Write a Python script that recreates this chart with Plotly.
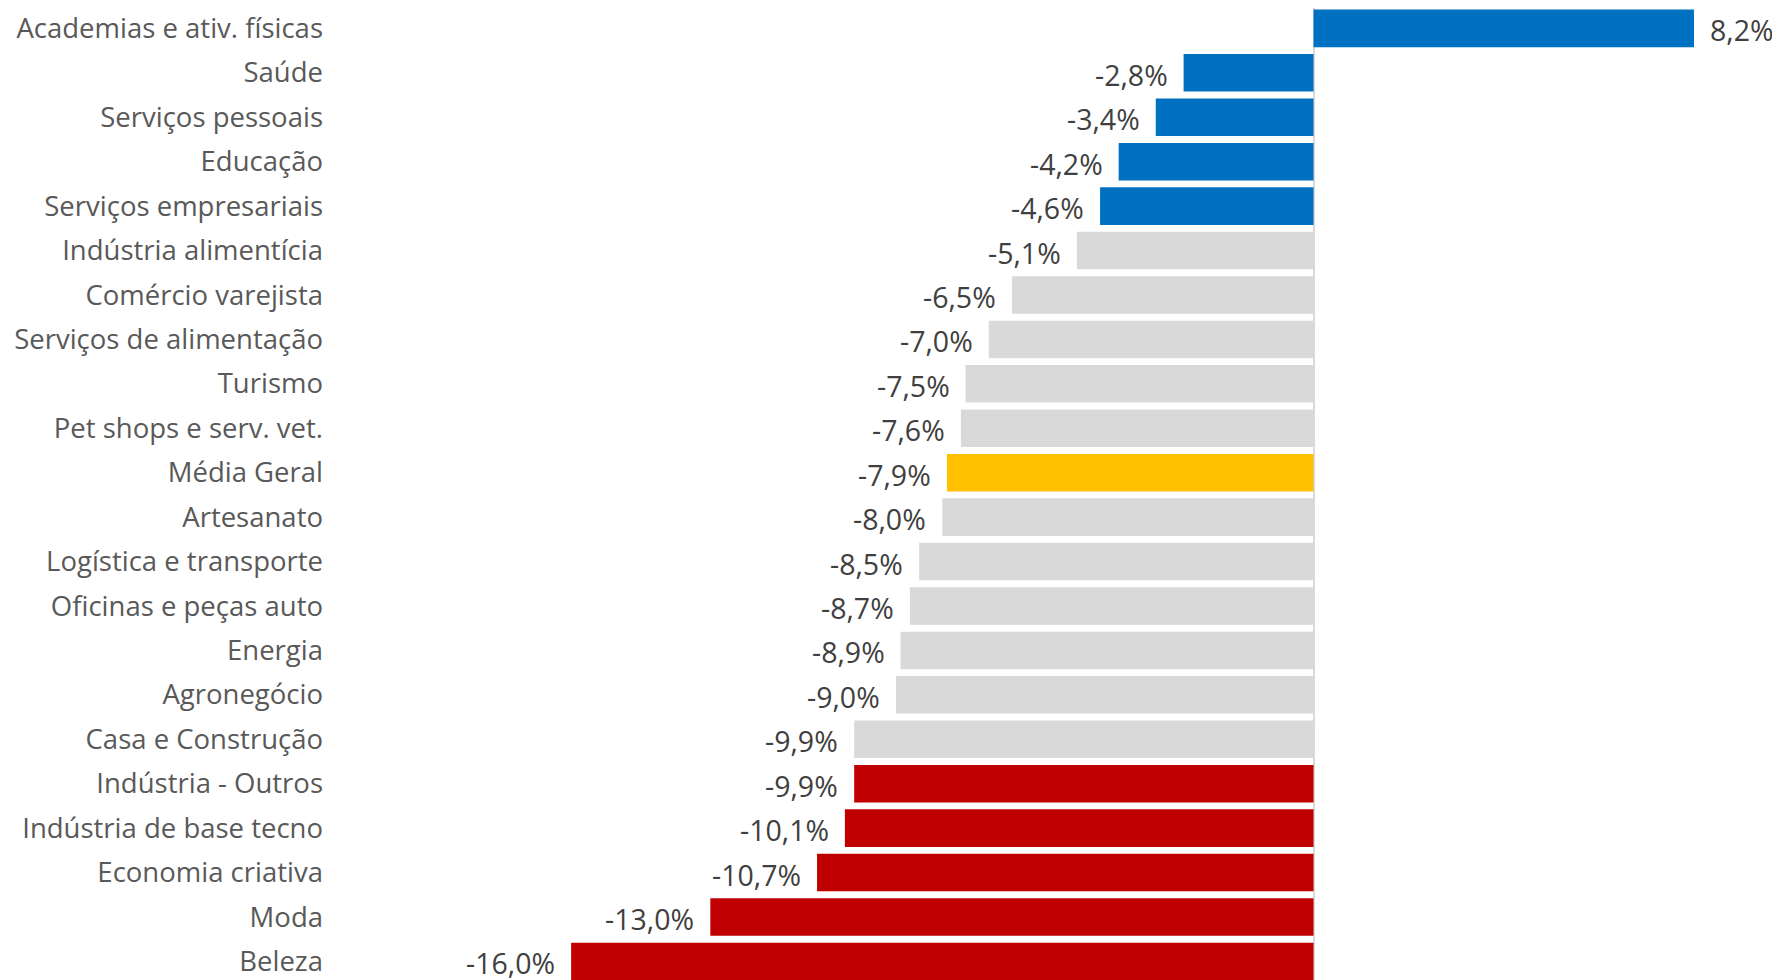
import plotly.graph_objects as go

categories = [
    "Academias e ativ. físicas", "Saúde", "Serviços pessoais", "Educação",
    "Serviços empresariais", "Indústria alimentícia", "Comércio varejista",
    "Serviços de alimentação", "Turismo", "Pet shops e serv. vet.", "Média Geral",
    "Artesanato", "Logística e transporte", "Oficinas e peças auto", "Energia",
    "Agronegócio", "Casa e Construção", "Indústria - Outros",
    "Indústria de base tecno", "Economia criativa", "Moda", "Beleza",
]
values = [8.2, -2.8, -3.4, -4.2, -4.6, -5.1, -6.5, -7.0, -7.5, -7.6, -7.9,
          -8.0, -8.5, -8.7, -8.9, -9.0, -9.9, -9.9, -10.1, -10.7, -13.0, -16.0]
groups = ["pos"] * 5 + ["mid"] * 5 + ["avg"] + ["mid"] * 6 + ["neg"] * 5

palette = {"pos": "#0070C0", "mid": "#D9D9D9", "avg": "#FFC000", "neg": "#C00000"}
colors = [palette[g] for g in groups]

FONT = "Open Sans, Noto Sans, sans-serif"

fig = go.Figure(go.Bar(
    x=values, y=categories, orientation="h",
    marker=dict(color=colors, line=dict(width=0)),
    hoverinfo="skip",
))

for c, v in zip(categories, values):
    fig.add_annotation(
        x=v, y=c, text=f"{v:.1f}%".replace(".", ","), showarrow=False,
        xanchor="left" if v >= 0 else "right",
        xshift=14 if v >= 0 else -14, yshift=-2,
        font=dict(family=FONT, size=28.5, color="#404040"),
    )

fig.update_layout(
    width=1780, height=980,
    margin=dict(l=322, r=0, t=0, b=0, autoexpand=False),
    paper_bgcolor="white", plot_bgcolor="white",
    bargap=0.155, showlegend=False,
    separators=",.",
    xaxis=dict(range=[-21.197, 10.226], showgrid=False, showticklabels=False,
               zeroline=True, zerolinecolor="#D9D9D9", zerolinewidth=2,
               fixedrange=True),
    yaxis=dict(type="category", range=[21.598, -0.459], showgrid=False,
               ticks="", ticklabelstandoff=6,
               tickfont=dict(family=FONT, size=27.5, color="#595959"),
               fixedrange=True),
)

fig.write_html("out.html")
